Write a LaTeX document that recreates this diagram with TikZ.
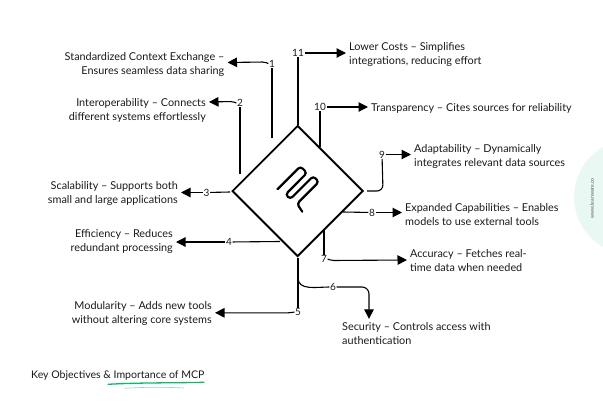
\documentclass[tikz,border=0pt]{standalone}
\usepackage{fontspec}
\setmainfont{Lato}
\usetikzlibrary{shapes.geometric,arrows.meta}
\definecolor{palemint}{HTML}{EAF8F4}
\definecolor{markgreen}{HTML}{12B76A}

\begin{document}
\begin{tikzpicture}[
    x=1pt, y=-1pt,
    hubbox/.style={diamond, draw=black, line width=1.9pt, aspect=1, inner sep=0pt, minimum size=131pt},
    num/.style={inner sep=0.5pt, font=\fontsize{10}{12}\selectfont, text=black!90},
    leftlabel/.style={anchor=east, align=right, inner sep=3pt, yshift=-1.2pt, font=\fontsize{10.85}{14.2}\selectfont, text=black!90},
    rightlabel/.style={anchor=west, align=left, inner sep=3pt, yshift=-1.2pt, font=\fontsize{10.85}{14.2}\selectfont, text=black!90},
    link/.style={line width=1.1pt, draw=black},
    pointer/.style={link, rounded corners=2pt, -{Triangle[length=9.5pt,width=9.5pt]}}
]
    \useasboundingbox (0,0) rectangle (603,402);

    % Pale corner mark
    \fill[palemint] (631.5,197) circle (57.5);
    \node[rotate=90, text=black!65, inner sep=0pt, font=\fontsize{5.2}{6}\selectfont] (site) at (592,198.5) {www.leanware.co};

    % Centre diamond with the logo
    \node[hubbox] (hub) at (297.7,191) {};
    \draw[line width=2.2pt, rounded corners=3.2pt, line cap=round]
        (277.5,189.2) -- (300.4,166.3) -- (307,172.9) -- (285.5,194.5) -- (290.15,199.15)
        -- (313.2,176.1) -- (318.9,181.8) -- (297,203.7) -- (302.3,211.7);

    % Number nodes
    \node[num] (n1) at (272,63.5) {1};
    \node[num] (n2) at (240,103) {2};
    \node[num] (n3) at (206.5,192.5) {3};
    \node[num] (n4) at (229,242) {4};
    \node[num] (n5) at (298,312) {5};
    \node[num] (n6) at (333,287) {6};
    \node[num] (n7) at (324,259) {7};
    \node[num] (n8) at (372,212.5) {8};
    \node[num] (n9) at (382,154.5) {9};
    \node[num] (n10) at (320,107) {10};
    \node[num] (n11) at (298,53) {11};

    % Label nodes
    \node[leftlabel] (exchange) at (227.5,63) {Standardized Context Exchange –\\Ensures seamless data sharing};
    \node[leftlabel] (interop) at (209,109) {Interoperability – Connects\\different systems effortlessly};
    \node[leftlabel] (scale) at (181,192.5) {Scalability – Supports both\\small and large applications};
    \node[leftlabel] (efficiency) at (176,240) {Efficiency – Reduces\\redundant processing};
    \node[leftlabel] (modular) at (215,312) {Modularity – Adds new tools\\without altering core systems};
    \node[rightlabel] (costs) at (346,53) {Lower Costs – Simplifies\\integrations, reducing effort};
    \node[rightlabel] (transparency) at (368,107) {Transparency – Cites sources for reliability};
    \node[rightlabel] (adapt) at (411,155) {Adaptability – Dynamically\\integrates relevant data sources};
    \node[rightlabel] (expanded) at (402,213) {Expanded Capabilities – Enables\\models to use external tools};
    \node[rightlabel] (accuracy) at (407,259) {Accuracy – Fetches real-\\time data when needed};
    \node[rightlabel] (security) at (339,332) {Security – Controls access with\\authentication};
    \node[anchor=west, inner sep=0pt, text=black!90, font=\fontsize{10.55}{12}\selectfont] (title) at (31,376) {Key Objectives \& Importance of MCP};

    % Free ends next to the diamond
    \coordinate (c1) at (272,138);
    \coordinate (c2) at (240,174);
    \coordinate (c3) at (230,192);
    \coordinate (c4) at (280,241.5);
    \coordinate (c5) at (298,258);
    \coordinate (c6) at (298,278);
    \coordinate (c7) at (324,230);
    \coordinate (c8) at (343,212);
    \coordinate (c9) at (367,191);
    \coordinate (c10) at (320,147);
    \coordinate (c11) at (298,125);

    % Connect nodes with arrows
    \draw[link] (c1) -- (n1);
    \draw[pointer] (n1.west) -- ++(-4,-1.5) -- (exchange.east |- 0,62.5);
    \draw[link] (c2) -- (n2);
    \draw[pointer] (n2.west) -- ++(-4,-1.5) -- (interop.east |- 0,102);
    \draw[link] (c3) -- (n3);
    \draw[pointer] (n3) -- (scale.east |- n3);
    \draw[link] (c4) -- (n4);
    \draw[pointer] (n4) -- (efficiency.east |- n4);
    \draw[link] (c5) -- (n5);
    \draw[pointer] (n5.west) -- ++(-4,0.8) -- (modular.east |- 0,312.8);
    \draw[link] (c6) to[out=-90,in=180] (n6);
    \draw[pointer, rounded corners=7pt] (n6) -- (369,287) -- (security.north -| 369,0);
    \draw[link] (c7) -- (n7);
    \draw[pointer] (n7.east) -- ++(4,1.5) -- (accuracy.west |- 0,260);
    \draw[link] (c8) -- (n8);
    \draw[pointer] (n8) -- (expanded.west |- n8);
    \draw[link, rounded corners=6pt] (c9) -- (383,191) -- (n9);
    \draw[pointer] (n9) -- (adapt.west |- n9);
    \draw[link] (c10) -- (n10);
    \draw[pointer] (n10) -- (transparency.west |- n10);
    \draw[link] (c11) -- (n11);
    \draw[pointer] (n11) -- (costs.west |- n11);

    % Green strokes under the title
    \draw[draw=markgreen, line width=1.3pt, line cap=round] (108,384.3) .. controls (140,382.5) and (175,383) .. (204,382.3);
    \draw[draw=markgreen!50, line width=0.6pt, line cap=round] (125,388.3) .. controls (145,387) and (165,387) .. (184,388);
\end{tikzpicture}
\end{document}
